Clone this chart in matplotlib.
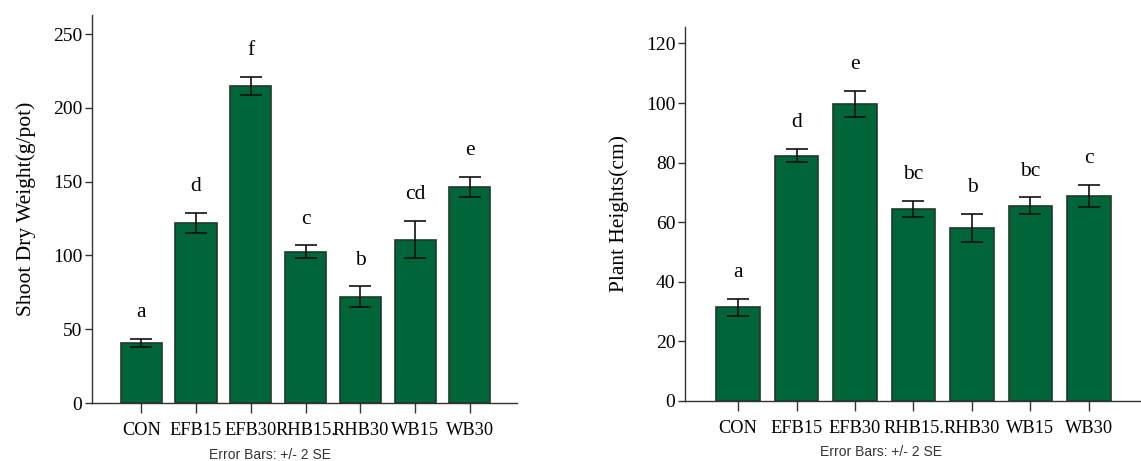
import numpy as np
import matplotlib
matplotlib.use("Agg")
import matplotlib.pyplot as plt

# treatments and Duncan letters
treatments = ["CON", "EFB15", "EFB30", "RHB15", "RHB30", "WB15", "WB30"]
tick_labels = ["CON", "EFB15", "EFB30", "RHB15.", "RHB30", "WB15", "WB30"]

# shoot dry weight (g/pot), +/- 2 SE
sdw_mean = [40.5, 122, 214.8, 102.5, 72, 110.8, 146.3]
sdw_err = [2.8, 7, 6, 4.3, 7, 12.5, 6.8]
sdw_letters = ["a", "d", "f", "c", "b", "cd", "e"]

# plant height (cm), +/- 2 SE
ph_mean = [31.4, 82.3, 99.8, 64.4, 58, 65.5, 68.8]
ph_err = [2.8, 2.2, 4.4, 2.8, 4.8, 2.8, 3.8]
ph_letters = ["a", "d", "e", "bc", "b", "bc", "c"]

bar_color = "#00663a"
edge_color = "#1e3a2a"
serif = ["Liberation Serif", "DejaVu Serif"]

fig = plt.figure(figsize=(11.41, 4.61), dpi=100)
ax1 = fig.add_axes([0.0806, 0.1258, 0.3725, 0.8417])
ax2 = fig.add_axes([0.6004, 0.1302, 0.3996, 0.8118])


def draw_panel(ax, means, errs, letters, ylabel, ylim, yticks, xlim, label_x):
    x = np.arange(len(treatments))
    ax.bar(x, means, width=0.75, color=bar_color, edgecolor=edge_color,
           linewidth=1.2, zorder=2)
    ax.errorbar(x, means, yerr=errs, fmt="none", ecolor="#111111",
                elinewidth=1.2, capsize=8, capthick=1.2, zorder=3)
    for xi, m, e, lab in zip(x, means, errs, letters):
        ax.annotate(lab, (xi, m + e), xytext=(0, 19), textcoords="offset points",
                    ha="center", va="center", fontsize=15.5, family=serif)
    ax.set_xlim(*xlim)
    ax.set_ylim(*ylim)
    ax.set_yticks(yticks)
    ax.set_xticks(x)
    ax.set_xticklabels(tick_labels, family=serif, fontsize=13.2)
    for t in ax.get_yticklabels():
        t.set_family(serif)
        t.set_fontsize(14)
    ax.set_ylabel(ylabel, family=serif, fontsize=15.5, labelpad=12)
    for s in ["top", "right"]:
        ax.spines[s].set_visible(False)
    for s in ["left", "bottom"]:
        ax.spines[s].set_color("#333333")
        ax.spines[s].set_linewidth(1.0)
    ax.tick_params(axis="y", length=5, width=1, color="#333333", pad=2)
    ax.tick_params(axis="x", length=7, width=1, color="#333333", pad=7)
    ax.text(label_x, -0.135, "Error Bars: +/- 2 SE", transform=ax.transAxes,
            ha="center", va="center", fontsize=10,
            family=["Liberation Sans", "DejaVu Sans"], color="#333333")


draw_panel(ax1, sdw_mean, sdw_err, sdw_letters, "Shoot Dry Weight(g/pot)",
           (0, 263), [0, 50, 100, 150, 200, 250], (-0.9, 6.86), 0.42)
draw_panel(ax2, ph_mean, ph_err, ph_letters, "Plant Heights(cm)",
           (0, 125.6), [0, 20, 40, 60, 80, 100, 120], (-0.906, 6.89), 0.43)

fig.savefig("out.png", dpi=100)
